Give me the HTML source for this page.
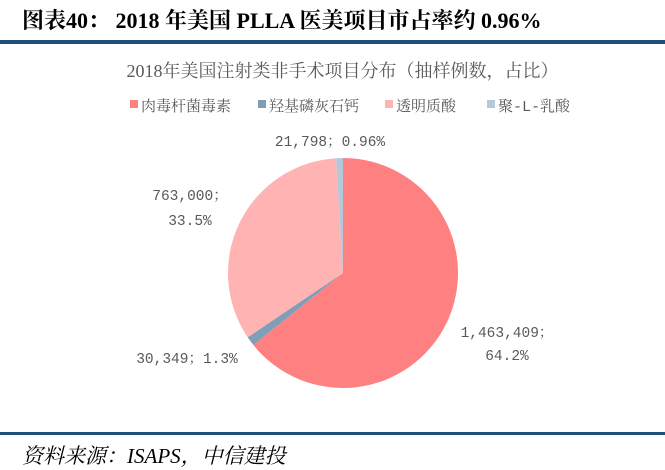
<!DOCTYPE html>
<html><head><meta charset="utf-8">
<style>
body{margin:0;background:#fff;width:665px;height:468px;overflow:hidden;position:relative;font-family:"Liberation Serif","Noto Serif CJK SC",serif}
.t{position:absolute;white-space:nowrap}
</style></head><body>
<div class="t" style="left:22px;top:4px;font-size:22px;font-weight:bold;color:#000">图表40： 2018 年美国 PLLA 医美项目市占率约 0.96%</div>
<div style="position:absolute;left:0;top:40px;width:665px;height:4px;background:#1f4e7a"></div>
<div class="t" style="left:0;width:685px;text-align:center;top:57px;font-size:18px;color:#595959">2018年美国注射类非手术项目分布（抽样例数，占比）</div>
<svg width="665" height="468" style="position:absolute;left:0;top:0" font-family="Liberation Mono,Noto Serif CJK SC,monospace" font-size="14.5" fill="#595959">
<g id="legend"></g>
<g id="pie"></g>
<g id="labels">
<text x="330" y="146" text-anchor="middle">21,798；0.96%</text>
<text x="190" y="200" text-anchor="middle">763,000；</text>
<text x="190" y="225" text-anchor="middle">33.5%</text>
<text x="507" y="337" text-anchor="middle">1,463,409；</text>
<text x="507" y="360" text-anchor="middle">64.2%</text>
<text x="187" y="363" text-anchor="middle">30,349；1.3%</text>
</g>
</svg>
<div style="position:absolute;left:0;top:432px;width:665px;height:3px;background:#1f4e7a"></div>
<div class="t" style="left:22px;top:440px;font-size:21px;font-style:italic;color:#000">资料来源：ISAPS，中信建投</div>
<script>
const categories=["肉毒杆菌毒素","羟基磷灰石钙","透明质酸","聚-L-乳酸"];
const values=[1463409,30349,763000,21798];
const colors=["#ff8080","#7f9fb8","#ffb3b3","#b3c9d9"];
const NS="http://www.w3.org/2000/svg";
const cx=343,cy=273,r=115;
const total=values.reduce((a,b)=>a+b,0);
let a=-Math.PI/2;
const pie=document.getElementById('pie');
values.forEach((v,i)=>{
  const a2=a+v/total*2*Math.PI;
  const large=(a2-a)>Math.PI?1:0;
  const p=document.createElementNS(NS,'path');
  p.setAttribute('d',`M${cx},${cy}L${cx+r*Math.cos(a)},${cy+r*Math.sin(a)}A${r},${r} 0 ${large} 1 ${cx+r*Math.cos(a2)},${cy+r*Math.sin(a2)}Z`);
  p.setAttribute('fill',colors[i]);
  
  
  pie.appendChild(p);
  a=a2;
});
const lg=document.getElementById('legend');
const lx=[130,258,385,487];
categories.forEach((c,i)=>{
  const rc=document.createElementNS(NS,'rect');
  rc.setAttribute('x',lx[i]);rc.setAttribute('y',100);rc.setAttribute('width',8);rc.setAttribute('height',8);
  rc.setAttribute('fill',colors[i]);
  
  
  lg.appendChild(rc);
  const t=document.createElementNS(NS,'text');
  t.setAttribute('x',lx[i]+11);t.setAttribute('y',111);t.textContent=c;
  t.setAttribute('font-size','15');
  
  
  lg.appendChild(t);
});
</script>
</body></html>
